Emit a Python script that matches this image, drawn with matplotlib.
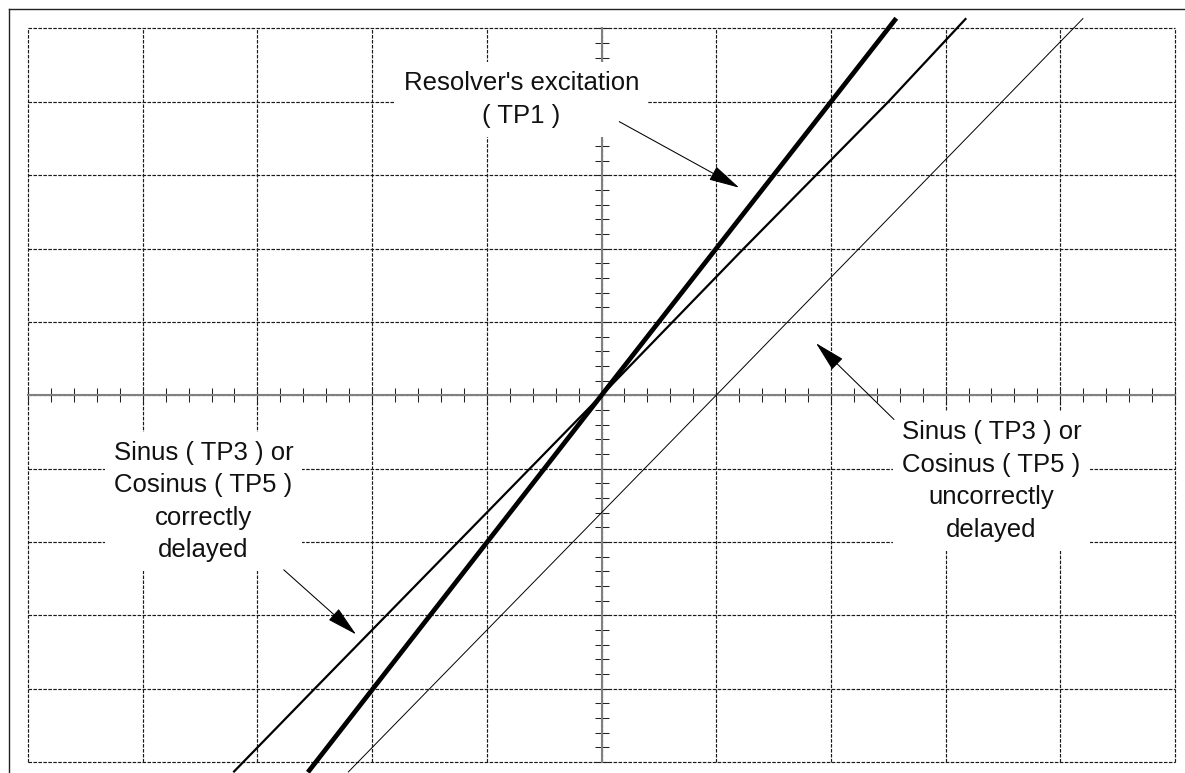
"""
Resolver signal check: excitation vs. sinus/cosinus delay, oscilloscope style.
"""

import matplotlib
import matplotlib.pyplot as plt
import numpy as np
from matplotlib.lines import Line2D
from matplotlib.patches import ArrowStyle
from matplotlib.ticker import MultipleLocator

matplotlib.use("Agg")

# -----------------------------
# Traces (screen divisions)
# -----------------------------
excitation_x = [-2.56, 0.0, 2.57]
excitation_y = [-5.14, 0.0, 5.14]

correct_x = [-3.21, -2.50, -1.25, 0.0, 1.24, 2.50, 3.18]
correct_y = [-5.14, -4.0, -2.0, 0.0, 2.0, 4.0, 5.14]

uncorrect_x = [-2.21, 1.0, 4.20]
uncorrect_y = [-5.14, 0.0, 5.14]

# -----------------------------
# Labels and arrows
# -----------------------------
label_texts = [
    "Resolver's excitation\n( TP1 )",
    "Sinus ( TP3 ) or\nCosinus ( TP5 )\ncorrectly\ndelayed",
    "Sinus ( TP3 ) or\nCosinus ( TP5 )\nuncorrectly\ndelayed",
]
label_xy = [(-0.70, 4.03), (-3.47, -1.45), (3.40, -1.17)]
arrow_start = [(0.155, 3.73), (-2.77, -2.38), (2.55, -0.33)]
arrow_tip = [(1.20, 2.83), (-2.14, -3.26), (1.87, 0.71)]

grid_pos = np.arange(-5, 6)

W, H = 1185, 773
fig = plt.figure(figsize=(W / 100, H / 100), dpi=100)
ax = fig.add_axes([28 / W, 11 / H, 1147 / W, 733.5 / H])
ax.set_xlim(-5, 5)
ax.set_ylim(-5, 5)

# dashed graticule
ax.vlines(grid_pos, -5, 5, colors="#1a1a1a", linewidth=0.85,
          linestyles=(0, (3, 1.2)), zorder=0.5, clip_on=False)
ax.hlines(grid_pos, -5, 5, colors="#1a1a1a", linewidth=0.85,
          linestyles=(0, (3, 1.2)), zorder=0.5, clip_on=False)

# center axes with ticks
for side in ["top", "right"]:
    ax.spines[side].set_visible(False)
for side in ["left", "bottom"]:
    ax.spines[side].set_position("zero")
    ax.spines[side].set_color("#808080")
    ax.spines[side].set_linewidth(1.5)
ax.xaxis.set_major_locator(MultipleLocator(1))
ax.yaxis.set_major_locator(MultipleLocator(1))
ax.xaxis.set_minor_locator(MultipleLocator(0.2))
ax.yaxis.set_minor_locator(MultipleLocator(0.2))
ax.tick_params(which="both", direction="inout", length=9.4, width=0.75,
               color="#222222", labelbottom=False, labelleft=False)

# traces
ax.plot(excitation_x, excitation_y, color="black", linewidth=3.4,
        solid_capstyle="butt", clip_on=False, zorder=4)
ax.plot(correct_x, correct_y, color="black", linewidth=1.6,
        solid_capstyle="butt", clip_on=False, zorder=4)
ax.plot(uncorrect_x, uncorrect_y, color="black", linewidth=0.7,
        solid_capstyle="butt", clip_on=False, zorder=4)

# labels with white boxes over the grid
for text, (tx, ty) in zip(label_texts, label_xy):
    ax.text(tx, ty, text, ha="center", va="center", multialignment="center",
            fontsize=18.5, family=["Liberation Sans", "DejaVu Sans"],
            linespacing=1.45, color="#111111", zorder=5,
            bbox=dict(boxstyle="square,pad=0.35", fc="white", ec="none"))

head = ArrowStyle("-|>", head_length=1.95, head_width=0.48)
for start, tip in zip(arrow_start, arrow_tip):
    ax.annotate("", xy=tip, xytext=start, zorder=6,
                arrowprops=dict(arrowstyle=head, mutation_scale=10,
                                color="black", linewidth=0.75,
                                shrinkA=0, shrinkB=0))

# outer frame (top and left edge only)
fig.add_artist(Line2D([9 / W, 1], [1 - 9 / H, 1 - 9 / H],
                      transform=fig.transFigure, color="#222222", linewidth=1.0))
fig.add_artist(Line2D([9 / W, 9 / W], [0, 1 - 9 / H],
                      transform=fig.transFigure, color="#222222", linewidth=1.0))

fig.savefig("out.png", dpi=100)
